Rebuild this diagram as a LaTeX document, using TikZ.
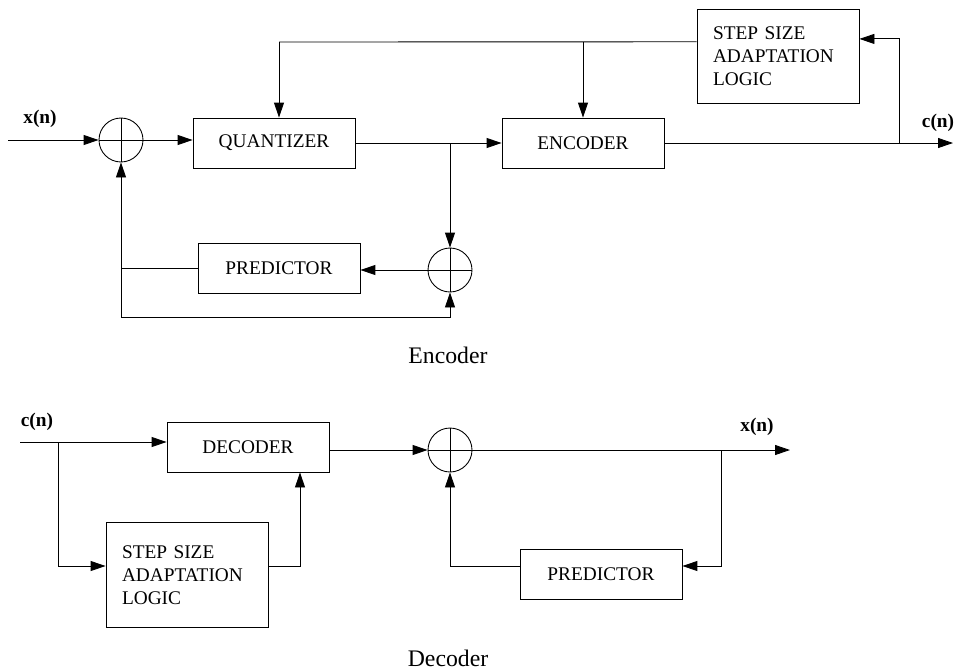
\documentclass[tikz,border=0pt]{standalone}
\usepackage{fontspec}
\setmainfont{Liberation Serif}
\usetikzlibrary{positioning,arrows.meta,calc}

\tikzset{
  block/.style={draw, minimum width=3.24cm, minimum height=1cm, inner sep=0pt,
    font=\fontsize{11}{13}\selectfont},
  logic/.style={block, align=left, text width=2.6cm},
  adder/.style={draw, circle, minimum size=0.88cm, inner sep=0pt,
    path picture={\draw (path picture bounding box.north) -- (path picture bounding box.south)
                        (path picture bounding box.west) -- (path picture bounding box.east);}},
  arr/.style={-{Triangle[length=3mm,width=2mm]}},
  sig/.style={font=\bfseries\fontsize{11}{13}\selectfont},
  caption/.style={font=\fontsize{13.5}{16}\selectfont}
}

\begin{document}
\begin{tikzpicture}[x=0.02cm, y=-0.02cm, line width=0.5pt]

% Page frame (pixel units, y downwards)
\useasboundingbox (0,0) rectangle (955,670);

% ---------------- Encoder ----------------
\node[adder] (sumA) at (121,140) {};
\node[block] (quant) at (274,143) {QUANTIZER};
\node[block] (enc) at (583,143) {ENCODER};
\node[logic, minimum height=1.88cm] (stepA) at (778,56) {STEP SIZE\\ADAPTATION\\LOGIC};
\node[block] (predA) at (279,268) {PREDICTOR};
\node[adder] (sumB) at (450,270) {};

% free ends and corners
\coordinate (xin) at (8,140);
\coordinate (cout) at (953,143);
\coordinate (jq) at (450,143);
\coordinate (jc) at (899,143);
\coordinate (topL) at (279,42);
\coordinate (lowA) at (121,317);

\node[sig] (xinLab) at (40,119) {x(n)};
\node[sig] (coutLab) at (938,123) {c(n)};

\draw[arr] (xin) -- (sumA.west);
\draw[arr] (sumA.east) -- (sumA.east -| quant.west);
\draw[arr] (quant.east) -- (enc.west);
\draw[arr] (jq) -- (sumB.north);
\draw[arr] (sumB.west) -- (sumB.west -| predA.east);
\draw[arr] (predA.west) -| (sumA.south);
\draw[arr] (predA.west -| sumA.south) -- (lowA) -| (sumB.south);
\draw[arr] (enc.east) -- (cout);
\draw[arr] (jc) |- ($(stepA.north east)!0.32!(stepA.south east)$);
\draw ($(stepA.north west)!0.35!(stepA.south west)$) -- (topL);
\draw[arr] (topL) -- (quant.north -| topL);
\draw[arr] (enc.north |- topL) -- (enc.north);

\node[caption] (encCap) at (448,355) {Encoder};

% ---------------- Decoder ----------------
\node[block] (dec) at (248,447) {DECODER};
\node[logic, minimum height=2.1cm] (stepB) at (187,575) {STEP SIZE\\ADAPTATION\\LOGIC};
\node[adder] (sumC) at (450,450) {};
\node[block] (predB) at (601,574) {PREDICTOR};

\coordinate (cin) at (20,442);
\coordinate (xout) at (790,450);
\coordinate (jd) at (58,442);
\coordinate (jx) at (721,450);

\node[sig] (cinLab) at (37,422) {c(n)};
\node[sig] (xoutLab) at (757,427) {x(n)};

\draw[arr] (cin) -- (cin -| dec.west);
\draw[arr] (jd) |- (stepB.west |- 0,566);
\draw[arr] (stepB.east |- 0,566) -| (dec.south -| 300,0);
\draw[arr] (dec.east |- sumC) -- (sumC.west);
\draw[arr] (sumC.east) -- (xout);
\draw[arr] (jx) |- (predB.east |- 0,566);
\draw[arr] (predB.west |- 0,566) -| (sumC.south);

\node[caption] (decCap) at (448,658) {Decoder};

\end{tikzpicture}
\end{document}
